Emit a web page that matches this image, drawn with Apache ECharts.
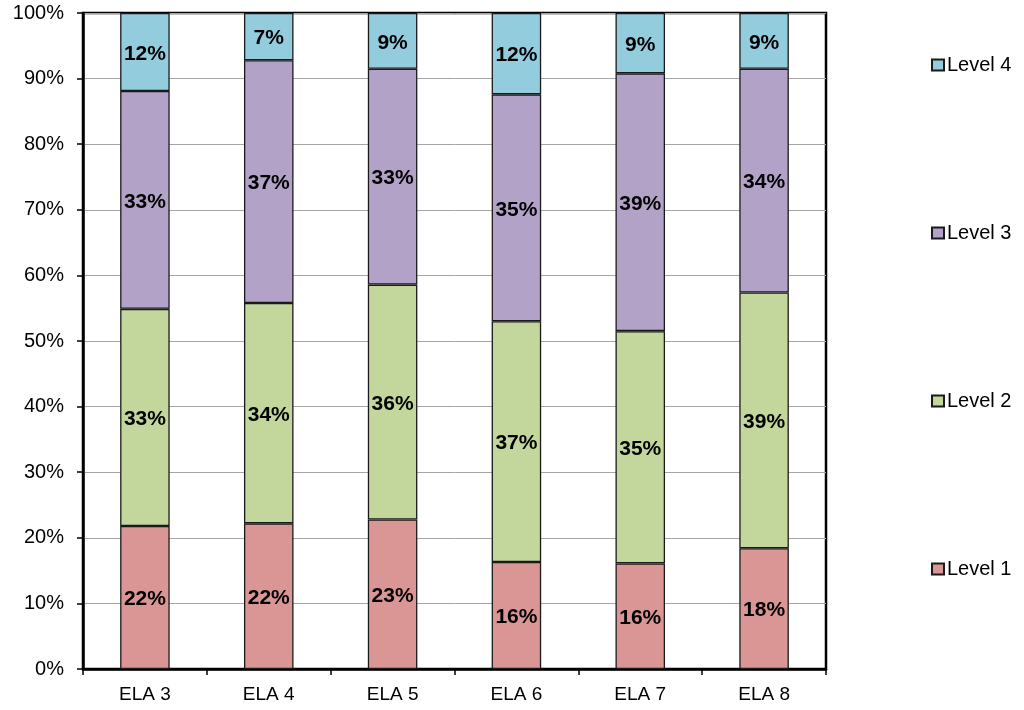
<!DOCTYPE html>
<html>
<head>
<meta charset="utf-8">
<script src="https://cdn.jsdelivr.net/npm/echarts@6/dist/echarts.min.js"></script>
<style>
  html, body { margin: 0; padding: 0; background: #fff; }
  #chart { width: 1024px; height: 710px; }
</style>
</head>
<body>
<div id="chart"></div>
<script>
// Performance level shares by grade (percent of students)
const categories = ['ELA 3', 'ELA 4', 'ELA 5', 'ELA 6', 'ELA 7', 'ELA 8'];
const level1 = [21.8, 22.2, 22.8, 16.3, 16.1, 18.4];
const level2 = [33.1, 33.6, 35.8, 36.7, 35.4, 39.0];
const level3 = [33.2, 37.0, 32.9, 34.6, 39.3, 34.1];
const level4 = [11.9, 7.2, 8.5, 12.4, 9.2, 8.5];
const yTicks = [0, 10, 20, 30, 40, 50, 60, 70, 80, 90, 100];

const FONT = '"Liberation Sans", Arial, sans-serif';

function levelSeries(name, data, color) {
  return {
    name: name,
    type: 'bar',
    stack: 'total',
    barWidth: '40%',
    data: data,
    itemStyle: { color: color, borderColor: '#1a1a1a', borderWidth: 1.3 },
    label: {
      show: true,
      position: 'inside',
      offset: [0, 2],
      formatter: p => Math.round(p.value) + '%',
      color: '#000',
      fontWeight: 'bold',
      fontSize: 21,
      fontFamily: FONT
    },
    emphasis: { disabled: true }
  };
}

const chart = echarts.init(document.getElementById('chart'), null, { renderer: 'canvas' });
chart.setOption({
  animation: false,
  backgroundColor: '#fff',
  grid: {
    left: 83, right: 198, top: 13, bottom: 41,
    show: true, borderColor: '#000', borderWidth: 2.5, backgroundColor: 'transparent'
  },
  legend: {
    orient: 'vertical',
    left: 931,
    top: 55,
    padding: 0,
    itemWidth: 12,
    itemHeight: 11,
    itemGap: 148,
    icon: 'rect',
    data: ['Level 4', 'Level 3', 'Level 2', 'Level 1'],
    textStyle: { fontSize: 20, color: '#000', fontFamily: FONT, padding: [0, 0, 0, -2] },
    selectedMode: false
  },
  xAxis: {
    type: 'category',
    data: categories,
    axisLine: { lineStyle: { color: '#000', width: 2.5 } },
    axisTick: { show: true, length: 6, lineStyle: { color: '#000', width: 1.5 } },
    axisLabel: { fontSize: 19, color: '#000', fontFamily: FONT, margin: 16 }
  },
  yAxis: {
    type: 'value',
    min: yTicks[0],
    max: yTicks[yTicks.length - 1],
    interval: 10,
    axisLine: { show: true, lineStyle: { color: '#000', width: 2.5 } },
    axisTick: { show: true, length: 6, lineStyle: { color: '#000', width: 1.5 } },
    axisLabel: { fontSize: 20, color: '#000', fontFamily: FONT, margin: 19, formatter: '{value}%' },
    splitLine: { show: true, lineStyle: { color: '#a6a6a6', width: 1 } }
  },
  series: [
    levelSeries('Level 1', level1, '#D99694'),
    levelSeries('Level 2', level2, '#C3D69B'),
    levelSeries('Level 3', level3, '#B3A2C7'),
    levelSeries('Level 4', level4, '#93CDDD')
  ]
});
</script>
</body>
</html>
